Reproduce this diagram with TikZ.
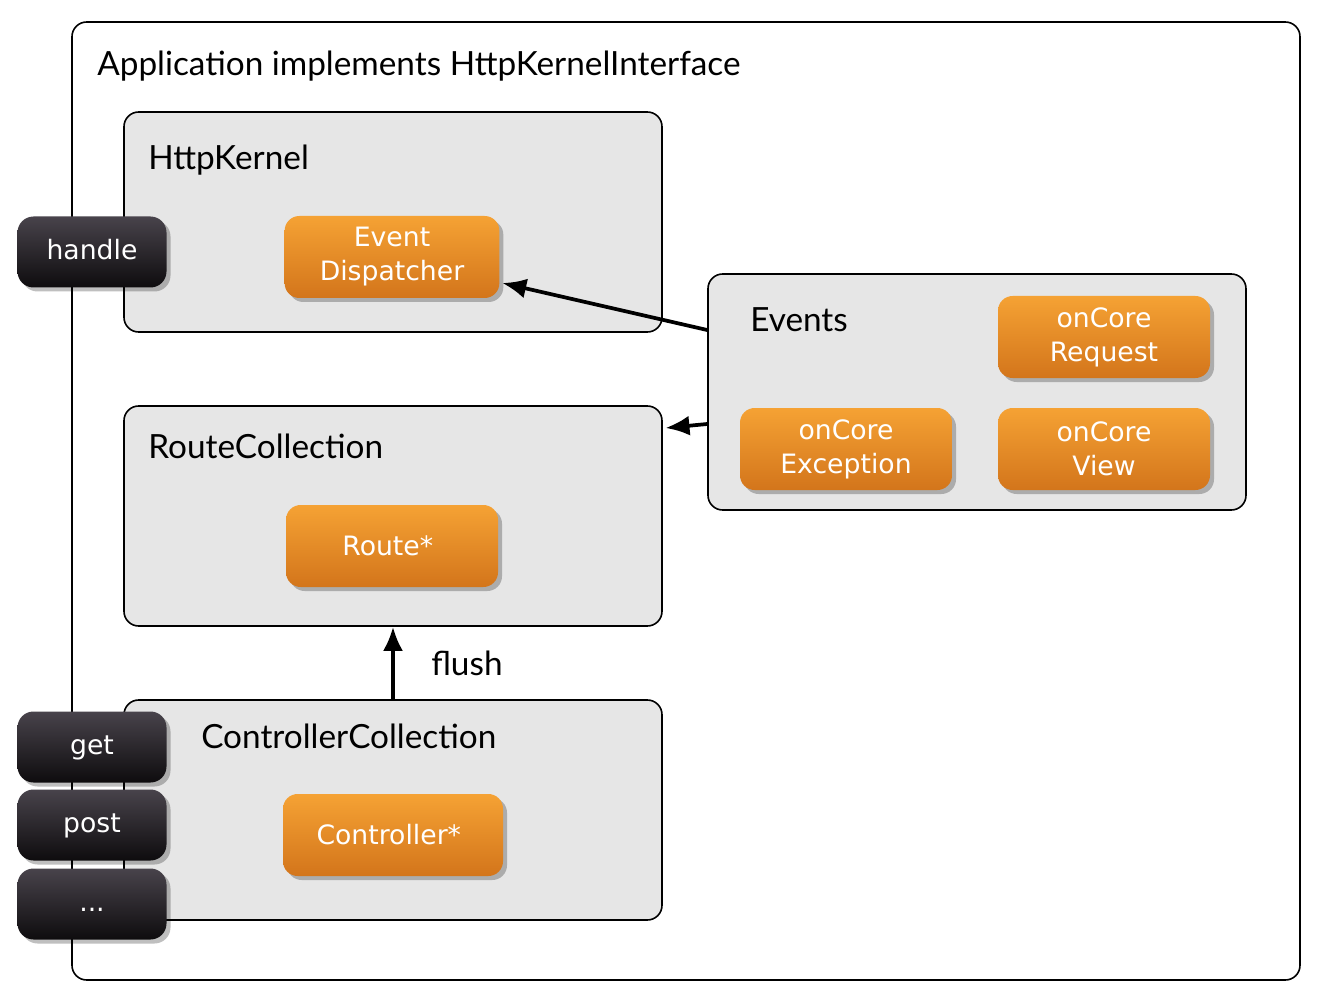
\documentclass[tikz,border=0pt]{standalone}
\usepackage{fontspec}
\setmainfont{Lato}
\newfontfamily\boxfont{DejaVu Sans}
\usetikzlibrary{arrows.meta,positioning,shapes,shadows}
\usepackage{xcolor}
\definecolor{orangetop}{HTML}{F5A234}
\definecolor{orangebottom}{HTML}{D3751B}
\definecolor{buttontop}{HTML}{48434B}
\definecolor{buttonbottom}{HTML}{0E0C0E}
\definecolor{boxgray}{HTML}{E6E6E6}

\begin{document}
\begin{tikzpicture}[x=0.75pt, y=-0.75pt,
    container/.style={
        rectangle,
        rounded corners=11pt,
        line width=1.2pt,
        draw,
        fill=boxgray,
        minimum width=403.5pt,
        minimum height=165pt
    },
    title/.style={
        anchor=west,
        inner sep=0pt,
        font=\fontsize{25}{30}\selectfont
    },
    orange/.style={
        rectangle,
        rounded corners=11pt,
        top color=orangetop,
        bottom color=orangebottom,
        draw=none,
        text=white,
        align=center,
        minimum width=159pt,
        minimum height=61.5pt,
        font=\boxfont\fontsize{20}{25.5}\selectfont,
        drop shadow={shadow xshift=3pt, shadow yshift=-3pt, opacity=0.25, fill=black}
    },
    button/.style={
        rectangle,
        rounded corners=12pt,
        top color=buttontop,
        bottom color=buttonbottom,
        draw=none,
        text=white,
        text height=14pt,
        text depth=3pt,
        minimum width=111.75pt,
        minimum height=53.25pt,
        font=\boxfont\fontsize{20}{25}\selectfont,
        drop shadow={shadow xshift=3pt, shadow yshift=-3pt, opacity=0.25, fill=black}
    },
    link/.style={
        line width=2.8pt,
        -{Latex[length=18pt, width=15pt]}
    }
]
    \useasboundingbox (0,0) rectangle (1322,1002);

    % outer frame
    \node (application) [container, fill=white, minimum width=921pt, minimum height=718.5pt] at (686,501) {};
    \node (application_title) [title] at (97,66)
    {
        Application implements HttpKernelInterface
    };

    % kernel
    \node (http_kernel) [container] at (393,222) {};
    \node (http_kernel_title) [title] at (148,160)
    {
        HttpKernel
    };
    \node (event_dispatcher) [orange, minimum width=161pt] at (392,257)
    {
        Event\\Dispatcher
    };

    % routes
    \node (route_collection) [container] at (393,516) {};
    \node (route_collection_title) [title] at (148,446)
    {
        RouteCollection
    };
    \node (route) [orange] at (392,546)
    {
        Route*
    };

    % controllers
    \node (controller_collection) [container] at (393,810) {};
    \node (controller_collection_title) [title] at (201,736)
    {
        ControllerCollection
    };
    \node (controller) [orange, minimum width=165pt] at (393,835)
    {
        Controller*
    };

    % events
    \node (events) [container, minimum height=177pt] at (977,392) {};
    \node (events_title) [title] at (750,320)
    {
        Events
    };
    \node (on_core_request) [orange] at (1104,337)
    {
        onCore\\Request
    };
    \node (on_core_exception) [orange] at (846,449)
    {
        onCore\\Exception
    };
    \node (on_core_view) [orange] at (1104,449)
    {
        onCore\\View
    };

    \draw[link] ([yshift=46.5pt]events.west) to ([xshift=2pt, yshift=-19.5pt]event_dispatcher.east);
    \draw[link] ([yshift=-24pt]events.west) to ([xshift=2pt, yshift=66pt]route_collection.east);
    \draw[link] (controller_collection.north) to node (flush_label) [right=24pt, font=\fontsize{25}{30}\selectfont] {flush} (route_collection.south);

    % methods
    \node (handle) [button] at (92,252)
    {
        handle
    };
    \node (get) [button] at (92,747)
    {
        get
    };
    \node (post) [button] at (92,825)
    {
        post
    };
    \node (more) [button] at (92,904)
    {
        ...
    };
\end{tikzpicture}
\end{document}
